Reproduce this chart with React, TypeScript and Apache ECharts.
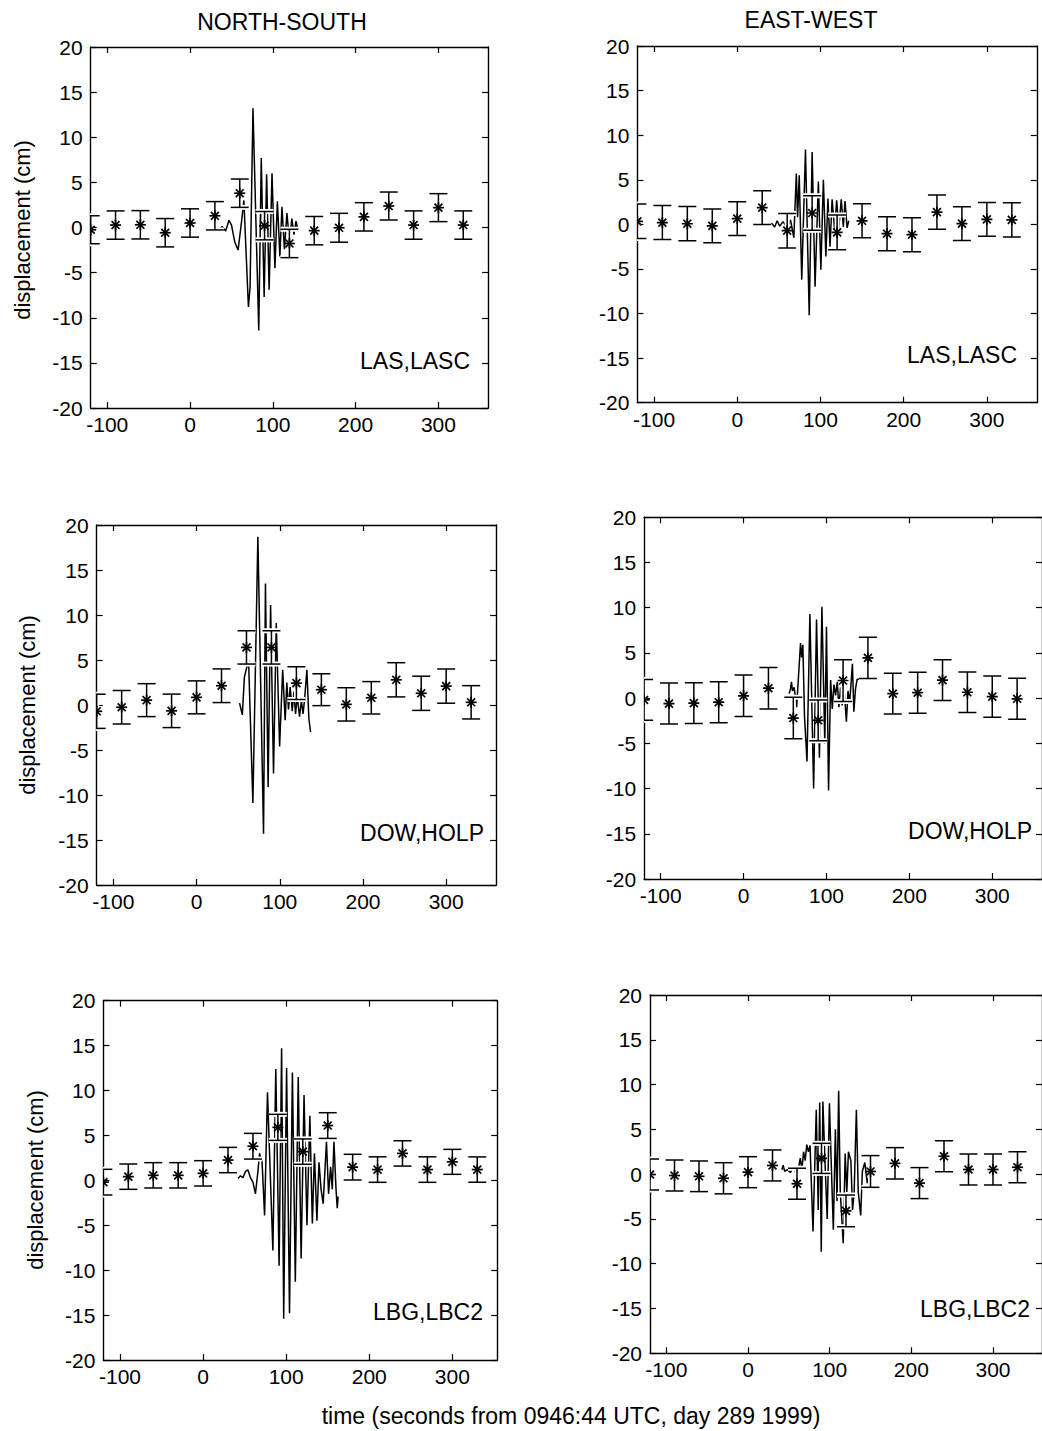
import React, { useEffect, useRef } from "react";
import * as echarts from "echarts";

// ---- data ----
const obsTime = [-120, -90, -60, -30, 0, 30, 60, 90, 120, 150, 180, 210, 240, 270, 300, 330];
const xTicks = [-100, 0, 100, 200, 300];

const lasNsVal = [-0.25, 0.27, 0.3, -0.58, 0.5, 1.3, 3.8, 0.2, -1.77, -0.35, -0.03, 1.18, 2.38, 0.27, 2.2, 0.27];
const lasNsErr = [1.55, 1.57, 1.57, 1.57, 1.57, 1.57, 1.57, 1.57, 1.57, 1.57, 1.6, 1.57, 1.55, 1.57, 1.55, 1.57];
const lasEwVal = [0.34, 0.2, 0.07, -0.17, 0.64, 1.87, -0.71, 1.27, -0.9, 0.4, -1.05, -1.16, 1.37, 0.08, 0.56, 0.5];
const lasEwErr = [1.94, 1.9, 1.92, 1.9, 1.9, 1.9, 1.94, 1.94, 1.94, 1.9, 1.9, 1.91, 1.93, 1.9, 1.9, 1.92];
const dowNsVal = [-0.7, -0.25, 0.54, -0.65, 0.85, 2.14, 6.4, 6.4, 2.43, 1.7, 0.07, 0.8, 2.8, 1.3, 2.1, 0.3];
const dowNsErr = [1.9, 1.86, 1.83, 1.86, 1.83, 1.87, 1.85, 1.85, 1.82, 1.77, 1.85, 1.8, 1.9, 1.9, 1.9, 1.85];
const dowEwVal = [-0.2, -0.6, -0.55, -0.45, 0.26, 1.1, -2.2, -2.45, 1.95, 4.45, 0.5, 0.6, 2.0, 0.65, 0.17, -0.07];
const dowEwErr = [2.25, 2.27, 2.25, 2.27, 2.3, 2.29, 2.29, 2.25, 2.31, 2.29, 2.25, 2.27, 2.26, 2.24, 2.27, 2.27];
const lbgNsVal = [-0.2, 0.41, 0.56, 0.56, 0.78, 2.26, 3.8, 5.9, 3.2, 6.1, 1.47, 1.2, 3.0, 1.2, 2.06, 1.2];
const lbgNsErr = [1.43, 1.41, 1.41, 1.41, 1.41, 1.41, 1.43, 1.45, 1.41, 1.43, 1.43, 1.42, 1.41, 1.42, 1.39, 1.41];
const lbgEwVal = [-0.04, -0.15, -0.24, -0.46, 0.22, 0.97, -1.07, 1.76, -4.1, 0.3, 1.21, -1.0, 2.0, 0.52, 0.52, 0.77];
const lbgEwErr = [1.73, 1.73, 1.71, 1.74, 1.73, 1.73, 1.73, 1.68, 1.77, 1.77, 1.75, 1.73, 1.73, 1.73, 1.73, 1.73];

const lasNsWaveT = [31, 35, 39, 43, 47, 50, 54, 58, 62, 65, 70.5, 72.5, 76, 83, 86, 89.5, 92.5, 95.5, 99, 102.5, 105.5, 108.5, 111, 114, 117, 120, 123, 125.5, 128, 130];
const lasNsWaveD = [-0.1, -0.2, 0.1, -0.4, 0.8, 0.3, -1.6, -2.5, 0.5, 3.0, -8.8, -6.6, 13.2, -11.4, 7.7, -7.7, 5.9, -6.9, 6.0, -4.5, 2.9, -3.2, 2.3, -2.4, 1.6, -1.5, 1.0, -0.8, 0.7, -0.2];
const lasEwWaveT = [39, 42, 45, 48, 51, 55, 60, 64, 68, 71, 72.5, 74.5, 77.5, 82, 86.5, 90, 93.5, 97.5, 100.5, 103.5, 106.5, 109, 111.5, 114, 117, 119.5, 122, 125, 127.5, 129.5, 132, 134];
const lasEwWaveD = [0.2, 0.05, -0.3, 0.4, -0.2, 0.3, -0.4, 0.5, -1.5, 5.7, 0.8, 5.5, -6.2, 8.4, -10.2, 8.1, -7.0, 4.8, -5.1, 5.0, -3.6, 2.9, -2.5, 2.8, -0.6, 2.7, -0.5, 2.8, -0.3, 2.6, -0.4, 0.4];
const dowNsWaveT = [51.7, 53.5, 55, 57.5, 62.5, 67.7, 73.7, 80.5, 82.8, 86, 89, 92.5, 95.8, 99.8, 103.5, 106.5, 108.5, 110.5, 112.5, 115, 117, 119, 121, 123.8, 126, 128, 130, 132.6, 135, 137];
const dowNsWaveD = [0.2, -0.5, -1.1, 3.1, 5.0, -10.9, 18.7, -14.3, 13.5, -9.1, 11.1, -7.6, 9.1, -4.6, 3.9, -1.7, 2.5, -0.5, 2.0, -0.7, 1.5, -1.0, 1.0, -1.3, 0.5, -1.0, 0.8, 3.9, -1.5, -3.0];
const dowEwWaveT = [55, 56.5, 57.8, 59, 61, 64, 66, 68.7, 70, 71.5, 73.5, 76.5, 80, 84.5, 88, 91.5, 94.5, 98, 100, 102.5, 105, 107, 109, 111, 113, 115, 117, 119, 121, 124, 126, 128, 131.3, 133, 135, 137, 140];
const dowEwWaveD = [0.5, 1.0, 1.8, 0.8, 1.2, -1.0, 2.0, 6.1, 4.5, 5.9, -2.0, -7.0, 9.3, -10.0, 8.7, -6.6, 10.1, -5.0, 7.9, -10.2, 2.0, -1.2, 1.5, 0.3, 1.8, -1.0, 1.2, -0.8, 1.5, -2.6, 0.8, -0.5, 3.8, -1.5, 1.0, 2.1, 2.1];
const lbgNsWaveT = [42, 45, 48, 51, 54, 57, 60, 63, 66, 68, 71, 74, 77.5, 84, 87.5, 91.5, 94.5, 97, 100.5, 104, 107.5, 111, 114.5, 118, 121.5, 125, 128.5, 131.5, 134, 137, 139.5, 142, 144.5, 148.5, 151, 153.5, 155.5, 157.5, 160, 161.5, 162.5];
const lbgNsWaveD = [0.2, 0.5, 0.3, 1.0, 1.15, 0.3, -0.2, -1.5, 1.0, 3.0, 2.0, -3.9, 9.8, -7.8, 12.4, -9.5, 14.7, -15.4, 12.5, -14.8, 12.0, -11.3, 11.5, -8.7, 9.5, -5.0, 7.2, -4.8, 3.0, -4.5, 2.0, -1.0, -2.6, 4.3, -1.5, 1.5, -1.0, 4.3, -1.0, -3.1, -1.8];
const lbgEwWaveT = [41.4, 43, 45, 48, 52, 56, 60, 64, 66, 68, 70, 72, 74, 76, 79.6, 83.6, 86, 87.8, 89.7, 91.7, 94, 97, 99.7, 102, 104.5, 107, 109, 111, 113, 116.6, 119, 121, 123, 126, 128, 130, 132.7, 135, 138, 140, 143, 146, 150];
const lbgEwWaveD = [0.5, 1.0, 0.3, 0.5, 0.2, 0.8, -0.3, 1.8, 0.5, 2.5, 1.5, 3.3, 2.5, 3.2, -6.4, 7.2, -4.0, 8.0, -8.65, 8.1, 2.0, -5.0, 7.9, 1.0, -6.2, 5.0, -3.0, 9.3, -2.0, -7.7, 2.3, -2.0, 2.5, 1.5, -4.0, -2.0, 7.2, -2.0, -4.6, 0.3, 1.3, -1.0, 0.5];

const FONT = "'Liberation Sans', Arial, Helvetica, sans-serif";

const panels = [
  { val: lasNsVal, err: lasNsErr, wt: lasNsWaveT, wd: lasNsWaveD, label: "LAS,LASC", left: 90.7, top: 47, width: 397.4, height: 361, xMax: 360, lx: 470, ly: 361 },
  { val: lasEwVal, err: lasEwErr, wt: lasEwWaveT, wd: lasEwWaveD, label: "LAS,LASC", left: 637.4, top: 46, width: 399.4, height: 356.7, xMax: 360, lx: 1017, ly: 355 },
  { val: dowNsVal, err: dowNsErr, wt: dowNsWaveT, wd: dowNsWaveD, label: "DOW,HOLP", left: 96.7, top: 525, width: 399.4, height: 360, xMax: 360, lx: 484, ly: 833 },
  { val: dowEwVal, err: dowEwErr, wt: dowEwWaveT, wd: dowEwWaveD, label: "DOW,HOLP", left: 644.1, top: 517.3, width: 398.4, height: 361.7, xMax: 360, lx: 1032, ly: 831 },
  { val: lbgNsVal, err: lbgNsErr, wt: lbgNsWaveT, wd: lbgNsWaveD, label: "LBG,LBC2", left: 103.4, top: 1000.7, width: 393.8, height: 359.3, xMax: 354, lx: 483, ly: 1312 },
  { val: lbgEwVal, err: lbgEwErr, wt: lbgEwWaveT, wd: lbgEwWaveD, label: "LBG,LBC2", left: 650, top: 995, width: 398.8, height: 358.3, xMax: 360, lx: 1030, ly: 1309 },
];

function errorBarItem(params: any, api: any) {
  const x = api.value(0);
  const y = api.value(1);
  const e = api.value(2);
  const c = api.coord([x, y]);
  const hi = api.coord([x, y + e]);
  const lo = api.coord([x, y - e]);
  const w = 9;
  const r = 5.5;
  const d = r * 0.72;
  const segs: number[][] = [
    [c[0], hi[1], c[0], lo[1]],
    [c[0] - w, hi[1], c[0] + w, hi[1]],
    [c[0] - w, lo[1], c[0] + w, lo[1]],
  ];
  const star: number[][] = [
    [c[0] - r, c[1], c[0] + r, c[1]],
    [c[0], c[1] - r, c[0], c[1] + r],
    [c[0] - d, c[1] - d, c[0] + d, c[1] + d],
    [c[0] - d, c[1] + d, c[0] + d, c[1] - d],
  ];
  const children: any[] = [];
  segs.forEach((s) => {
    children.push({ type: "line", shape: { x1: s[0], y1: s[1], x2: s[2], y2: s[3] }, style: { stroke: "#fff", lineWidth: 5 } });
  });
  segs.forEach((s) => {
    children.push({ type: "line", shape: { x1: s[0], y1: s[1], x2: s[2], y2: s[3] }, style: { stroke: "#000", lineWidth: 1.5 } });
  });
  star.forEach((s) => {
    children.push({ type: "line", shape: { x1: s[0], y1: s[1], x2: s[2], y2: s[3] }, style: { stroke: "#000", lineWidth: 1.7 } });
  });
  children.push({ type: "circle", shape: { cx: c[0], cy: c[1], r: 2 }, style: { fill: "#000" } });
  return { type: "group", children };
}

function buildOption() {
  const grid: any[] = [];
  const xAxis: any[] = [];
  const yAxis: any[] = [];
  const series: any[] = [];
  const axisLine = { show: true, onZero: false, lineStyle: { color: "#000", width: 1.4 } };
  const tickStyle = { color: "#000", width: 1.2 };
  panels.forEach((p, i) => {
    grid.push({ left: p.left, top: p.top, width: p.width, height: p.height, containLabel: false });
    xAxis.push({
      gridIndex: i, type: "value", min: -120, max: p.xMax, position: "bottom",
      axisLine, splitLine: { show: false },
      axisTick: { show: true, inside: true, length: 6, customValues: xTicks, lineStyle: tickStyle },
      axisLabel: { show: true, customValues: xTicks, color: "#000", fontSize: 21, fontFamily: FONT, margin: 6 },
    });
    xAxis.push({
      gridIndex: i, type: "value", min: -120, max: p.xMax, position: "top",
      axisLine, splitLine: { show: false },
      axisTick: { show: true, inside: true, length: 6, customValues: xTicks, lineStyle: tickStyle },
      axisLabel: { show: false },
    });
    yAxis.push({
      gridIndex: i, type: "value", min: -20, max: 20, interval: 5, position: "left",
      axisLine, splitLine: { show: false },
      axisTick: { show: true, inside: true, length: 6, lineStyle: tickStyle },
      axisLabel: { show: true, color: "#000", fontSize: 21, fontFamily: FONT, margin: 8 },
    });
    yAxis.push({
      gridIndex: i, type: "value", min: -20, max: 20, interval: 5, position: "right",
      axisLine, splitLine: { show: false },
      axisTick: { show: true, inside: true, length: 6, lineStyle: tickStyle },
      axisLabel: { show: false },
    });
    series.push({
      type: "line", xAxisIndex: 2 * i, yAxisIndex: 2 * i, z: 2,
      data: p.wt.map((t, k) => [t, p.wd[k]]),
      showSymbol: false, symbol: "none", smooth: false,
      lineStyle: { color: "#000", width: 1.5 },
      silent: true,
    });
    series.push({
      type: "custom", xAxisIndex: 2 * i, yAxisIndex: 2 * i, z: 3, clip: true,
      data: obsTime.map((t, k) => [t, p.val[k], p.err[k]]),
      encode: { x: 0, y: 1 },
      renderItem: errorBarItem,
      silent: true,
    });
  });

  const graphic: any[] = [
    { type: "text", x: 282, y: 22, style: { text: "NORTH-SOUTH", font: `23px ${FONT}`, fill: "#000", textAlign: "center", textVerticalAlign: "middle" } },
    { type: "text", x: 811, y: 20, style: { text: "EAST-WEST", font: `23px ${FONT}`, fill: "#000", textAlign: "center", textVerticalAlign: "middle" } },
    { type: "text", x: 571, y: 1416, style: { text: "time (seconds from 0946:44 UTC, day 289 1999)", font: `23px ${FONT}`, fill: "#000", textAlign: "center", textVerticalAlign: "middle" } },
  ];
  const ylab = [[22, 230], [27, 705], [35, 1180]];
  ylab.forEach((q) => {
    graphic.push({ type: "text", x: q[0], y: q[1], rotation: Math.PI / 2, style: { text: "displacement (cm)", font: `22px ${FONT}`, fill: "#000", textAlign: "center", textVerticalAlign: "middle" } });
  });
  panels.forEach((p) => {
    graphic.push({ type: "text", x: p.lx, y: p.ly, z: 10, style: { text: p.label, font: `23px ${FONT}`, fill: "#000", textAlign: "right", textVerticalAlign: "middle" } });
  });

  return { animation: false, backgroundColor: "#fff", grid, xAxis, yAxis, series, graphic };
}

export default function App() {
  const ref = useRef<HTMLDivElement>(null);
  useEffect(() => {
    if (!ref.current) return;
    const chart = echarts.init(ref.current, undefined, { renderer: "svg" });
    chart.setOption(buildOption() as any);
    return () => chart.dispose();
  }, []);
  return <div ref={ref} style={{ position: "absolute", left: 0, top: 0, width: 1042, height: 1431, background: "#fff" }} />;
}
